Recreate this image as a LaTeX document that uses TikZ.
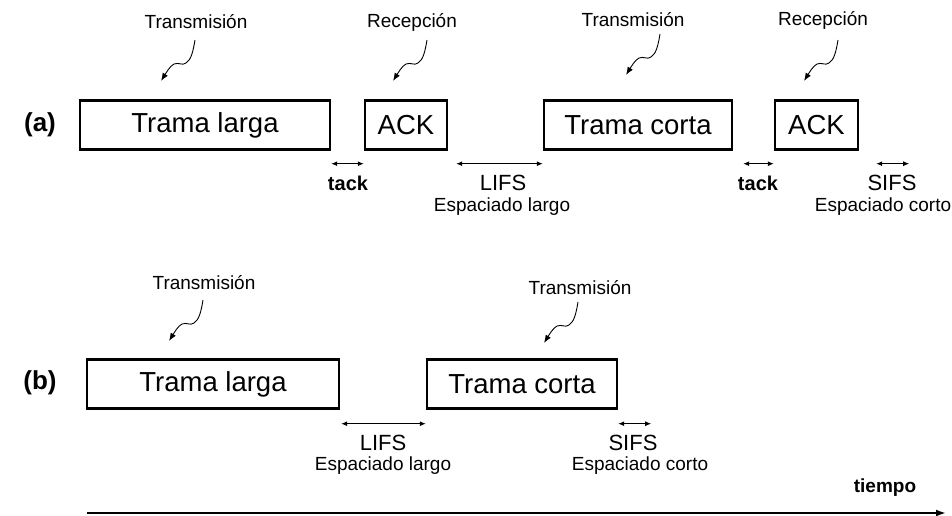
\documentclass[tikz,border=0pt]{standalone}
\usepackage{fontspec}
\setmainfont{Liberation Sans}
\usetikzlibrary{arrows.meta}

\begin{document}
\begin{tikzpicture}[x=1pt,y=-1pt,
    frame/.style={draw,line width=2.4pt,minimum height=49pt,inner sep=0pt,font=\fontsize{27.5}{30}\selectfont},
    gap/.style={{Latex[length=6pt,width=5pt]}-{Latex[length=6pt,width=5pt]},line width=1pt},
    wave/.style={-{Latex[length=8pt,width=6pt]},line width=0.9pt},
    rolelbl/.style={font=\fontsize{19}{21}\selectfont},
    gapname/.style={font=\fontsize{22}{24}\selectfont},
    gapbold/.style={font=\fontsize{20}{22}\selectfont\bfseries},
    gapnote/.style={font=\fontsize{19}{21}\selectfont},
    rowlbl/.style={font=\fontsize{26}{28}\selectfont\bfseries}]
    \useasboundingbox (0,0) rectangle (952,516);

    % Row (a)
    \node[rowlbl] (rowA) at (40,125) {(a)};
    \node[frame,minimum width=250pt] (tlA) at (205,125) {Trama larga};
    \node[frame,minimum width=82pt] (ackA1) at (406,125) {ACK};
    \node[frame,minimum width=188pt] (tcA) at (638,125) {Trama corta};
    \node[frame,minimum width=83pt] (ackA2) at (816.5,125) {ACK};

    \node[rolelbl] (txA1) at (196,22) {Transmisión};
    \node[rolelbl] (rxA1) at (412,22) {Recepción};
    \node[rolelbl] (txA2) at (633,20) {Transmisión};
    \node[rolelbl] (rxA2) at (823,20) {Recepción};

    \draw[gap] ([yshift=-13pt]tlA.south east) -- ([yshift=-13pt]ackA1.south west);
    \draw[gap] ([xshift=8pt,yshift=-13pt]ackA1.south east) -- ([yshift=-13pt]tcA.south west);
    \draw[gap] ([xshift=10pt,yshift=-13pt]tcA.south east) -- ([yshift=-13pt]ackA2.south west);
    \draw[gap] ([xshift=17pt,yshift=-13pt]ackA2.south east) -- ([xshift=50pt,yshift=-13pt]ackA2.south east);

    \node[gapbold] (tackA1) at (348,183) {tack};
    \node[gapname] (lifsA) at (503,183) {LIFS};
    \node[gapnote] (lifsAnote) at (502,207) {Espaciado largo};
    \node[gapbold] (tackA2) at (758,183) {tack};
    \node[gapname] (sifsA) at (892,183) {SIFS};
    \node[gapnote] (sifsAnote) at (883,207) {Espaciado corto};

    % Row (b)
    \node[rowlbl] (rowB) at (40,383) {(b)};
    \node[frame,minimum width=252pt] (tlB) at (213,384) {Trama larga};
    \node[frame,minimum width=190pt] (tcB) at (522,384) {Trama corta};

    \node[rolelbl] (txB1) at (204,283) {Transmisión};
    \node[rolelbl] (txB2) at (580,288) {Transmisión};

    \draw[gap] ([xshift=1pt,yshift=-14pt]tlB.south east) -- ([yshift=-14pt]tcB.south west);
    \draw[gap] ([yshift=-14pt]tcB.south east) -- ([xshift=33pt,yshift=-14pt]tcB.south east);

    \node[gapname] (lifsB) at (383,443) {LIFS};
    \node[gapnote] (lifsBnote) at (383,466) {Espaciado largo};
    \node[gapname] (sifsB) at (633,443) {SIFS};
    \node[gapnote] (sifsBnote) at (640,466) {Espaciado corto};

    % signal arrows
    \foreach \sx/\sy in {195/40, 427/40, 660/34, 838/40, 203/300, 578/302}
        \draw[wave,shift={(\sx,\sy)}] (0,0) .. controls (-2,12) and (-4,20) .. (-9,23)
            .. controls (-13,26) and (-16,22) .. (-21,24)
            .. controls (-25,26) and (-29,33) .. (-34,41);

    % time axis
    \coordinate (t0) at (87,513);
    \coordinate (t1) at (946,513);
    \draw[line width=1.8pt,-{Latex[length=10pt,width=7pt]}] (t0) -- (t1);
    \node[font=\fontsize{19}{21}\selectfont\bfseries] (tiempo) at (885,488) {tiempo};
\end{tikzpicture}
\end{document}
